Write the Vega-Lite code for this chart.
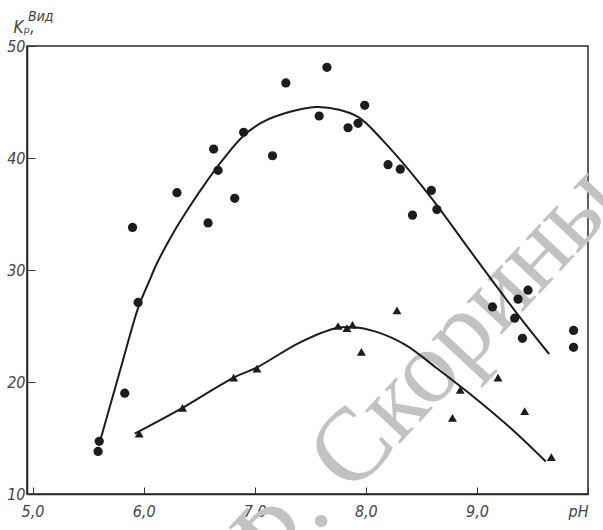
{
  "$schema": "https://vega.github.io/schema/vega-lite/v6.json",
  "width": 561,
  "height": 448,
  "autosize": {"type": "none"},
  "padding": {"left": 27, "top": 46, "right": 15, "bottom": 36},
  "background": "#ffffff",
  "title": {
    "text": "Вид",
    "anchor": "start",
    "frame": "group",
    "orient": "top",
    "offset": 0,
    "dx": 1,
    "dy": 17,
    "baseline": "alphabetic",
    "font": "DejaVu Sans Condensed",
    "fontStyle": "italic",
    "fontWeight": "normal",
    "fontSize": 14,
    "color": "#444444"
  },
  "config": {
    "view": {"stroke": "#2a2a2a", "strokeWidth": 1.5},
    "axis": {
      "grid": false,
      "domainColor": "#222222",
      "domainWidth": 1.5,
      "tickColor": "#333333",
      "tickWidth": 1,
      "labelFont": "DejaVu Sans Condensed",
      "labelFontStyle": "italic",
      "labelFontSize": 16,
      "labelColor": "#444444",
      "titleFont": "DejaVu Sans Condensed",
      "titleFontStyle": "italic",
      "titleFontWeight": "normal",
      "titleColor": "#444444"
    }
  },
  "datasets": {
    "circles": [
      {"pH": 5.90, "v": 33.8}, {"pH": 5.83, "v": 19.0}, {"pH": 5.95, "v": 27.1},
      {"pH": 5.60, "v": 14.7}, {"pH": 5.59, "v": 13.8}, {"pH": 6.30, "v": 36.9},
      {"pH": 6.58, "v": 34.2}, {"pH": 6.63, "v": 40.8}, {"pH": 6.67, "v": 38.9},
      {"pH": 6.82, "v": 36.4}, {"pH": 6.90, "v": 42.3}, {"pH": 7.16, "v": 40.2},
      {"pH": 7.28, "v": 46.7}, {"pH": 7.65, "v": 48.1}, {"pH": 7.58, "v": 43.75},
      {"pH": 7.99, "v": 44.7}, {"pH": 7.84, "v": 42.7}, {"pH": 7.93, "v": 43.1},
      {"pH": 8.20, "v": 39.4}, {"pH": 8.31, "v": 39.0}, {"pH": 8.59, "v": 37.1},
      {"pH": 8.64, "v": 35.4}, {"pH": 8.42, "v": 34.9}, {"pH": 9.14, "v": 26.7},
      {"pH": 9.46, "v": 28.2}, {"pH": 9.37, "v": 27.4}, {"pH": 9.34, "v": 25.7},
      {"pH": 9.41, "v": 23.9}, {"pH": 9.87, "v": 24.6}, {"pH": 9.87, "v": 23.1}
    ],
    "triangles": [
      {"pH": 5.96, "v": 15.4}, {"pH": 6.35, "v": 17.7}, {"pH": 6.81, "v": 20.4},
      {"pH": 7.02, "v": 21.2}, {"pH": 7.75, "v": 25.0}, {"pH": 7.83, "v": 24.8},
      {"pH": 7.88, "v": 25.1}, {"pH": 8.28, "v": 26.4}, {"pH": 7.96, "v": 22.7},
      {"pH": 8.85, "v": 19.3}, {"pH": 8.78, "v": 16.8}, {"pH": 9.19, "v": 20.4},
      {"pH": 9.43, "v": 17.4}, {"pH": 9.67, "v": 13.3}
    ],
    "upper": [
      {"pH": 5.61, "v": 14.8}, {"pH": 5.71, "v": 18.3}, {"pH": 5.81, "v": 21.8},
      {"pH": 5.95, "v": 26.6}, {"pH": 6.05, "v": 29.0}, {"pH": 6.12, "v": 30.6},
      {"pH": 6.26, "v": 33.2}, {"pH": 6.41, "v": 35.6}, {"pH": 6.56, "v": 37.8},
      {"pH": 6.71, "v": 39.8}, {"pH": 6.89, "v": 41.9}, {"pH": 7.07, "v": 43.2},
      {"pH": 7.31, "v": 44.1}, {"pH": 7.55, "v": 44.55}, {"pH": 7.76, "v": 44.3},
      {"pH": 7.94, "v": 43.6}, {"pH": 8.15, "v": 41.6}, {"pH": 8.39, "v": 38.9},
      {"pH": 8.60, "v": 36.3}, {"pH": 9.00, "v": 30.9}, {"pH": 9.37, "v": 26.0},
      {"pH": 9.65, "v": 22.5}
    ],
    "lower": [
      {"pH": 5.92, "v": 15.4}, {"pH": 6.35, "v": 17.7}, {"pH": 6.81, "v": 20.4},
      {"pH": 7.02, "v": 21.3}, {"pH": 7.40, "v": 23.5}, {"pH": 7.73, "v": 24.8},
      {"pH": 7.88, "v": 24.9}, {"pH": 8.09, "v": 24.5}, {"pH": 8.36, "v": 23.3},
      {"pH": 8.63, "v": 21.3}, {"pH": 8.93, "v": 19.0}, {"pH": 9.29, "v": 16.0},
      {"pH": 9.62, "v": 12.9}
    ],
    "watermark": [
      {"pH": 8.48, "v": 20.4, "label": "Ф. Скорины"}
    ]
  },
  "encoding": {
    "x": {
      "field": "pH",
      "type": "quantitative",
      "scale": {"domain": [4.95, 10], "nice": false, "zero": false},
      "axis": {
        "values": [5, 6, 7, 8, 9, 10],
        "labelExpr": "datum.value == 10 ? 'pH' : replace(format(datum.value, '.1f'), '.', ',')",
        "tickSize": -7,
        "labelPadding": 16,
        "labelFlush": true,
        "title": null
      }
    },
    "y": {
      "field": "v",
      "type": "quantitative",
      "scale": {"domain": [10, 50], "nice": false, "zero": false},
      "axis": {
        "values": [10, 20, 30, 40, 50],
        "tickSize": -8,
        "labelPadding": 10,
        "title": "Kₚ,",
        "titleAngle": 0,
        "titleAlign": "left",
        "titleBaseline": "alphabetic",
        "titleX": -14,
        "titleY": -14,
        "titleFontSize": 17
      }
    }
  },
  "layer": [
    {
      "data": {"name": "watermark"},
      "mark": {"type": "text", "font": "Liberation Serif", "fontSize": 104, "angle": -47, "align": "center", "baseline": "middle", "color": "#c2c2c2"},
      "encoding": {"text": {"field": "label"}}
    },
    {
      "data": {"name": "upper"},
      "mark": {"type": "line", "interpolate": "catmull-rom", "color": "#1c1c1c", "strokeWidth": 2}
    },
    {
      "data": {"name": "lower"},
      "mark": {"type": "line", "interpolate": "catmull-rom", "color": "#1c1c1c", "strokeWidth": 2}
    },
    {
      "data": {"name": "circles"},
      "mark": {"type": "point", "shape": "circle", "filled": true, "size": 85, "color": "#1c1c1c", "opacity": 1}
    },
    {
      "data": {"name": "triangles"},
      "mark": {"type": "point", "shape": "triangle-up", "filled": true, "size": 80, "color": "#1c1c1c", "opacity": 1}
    }
  ]
}
